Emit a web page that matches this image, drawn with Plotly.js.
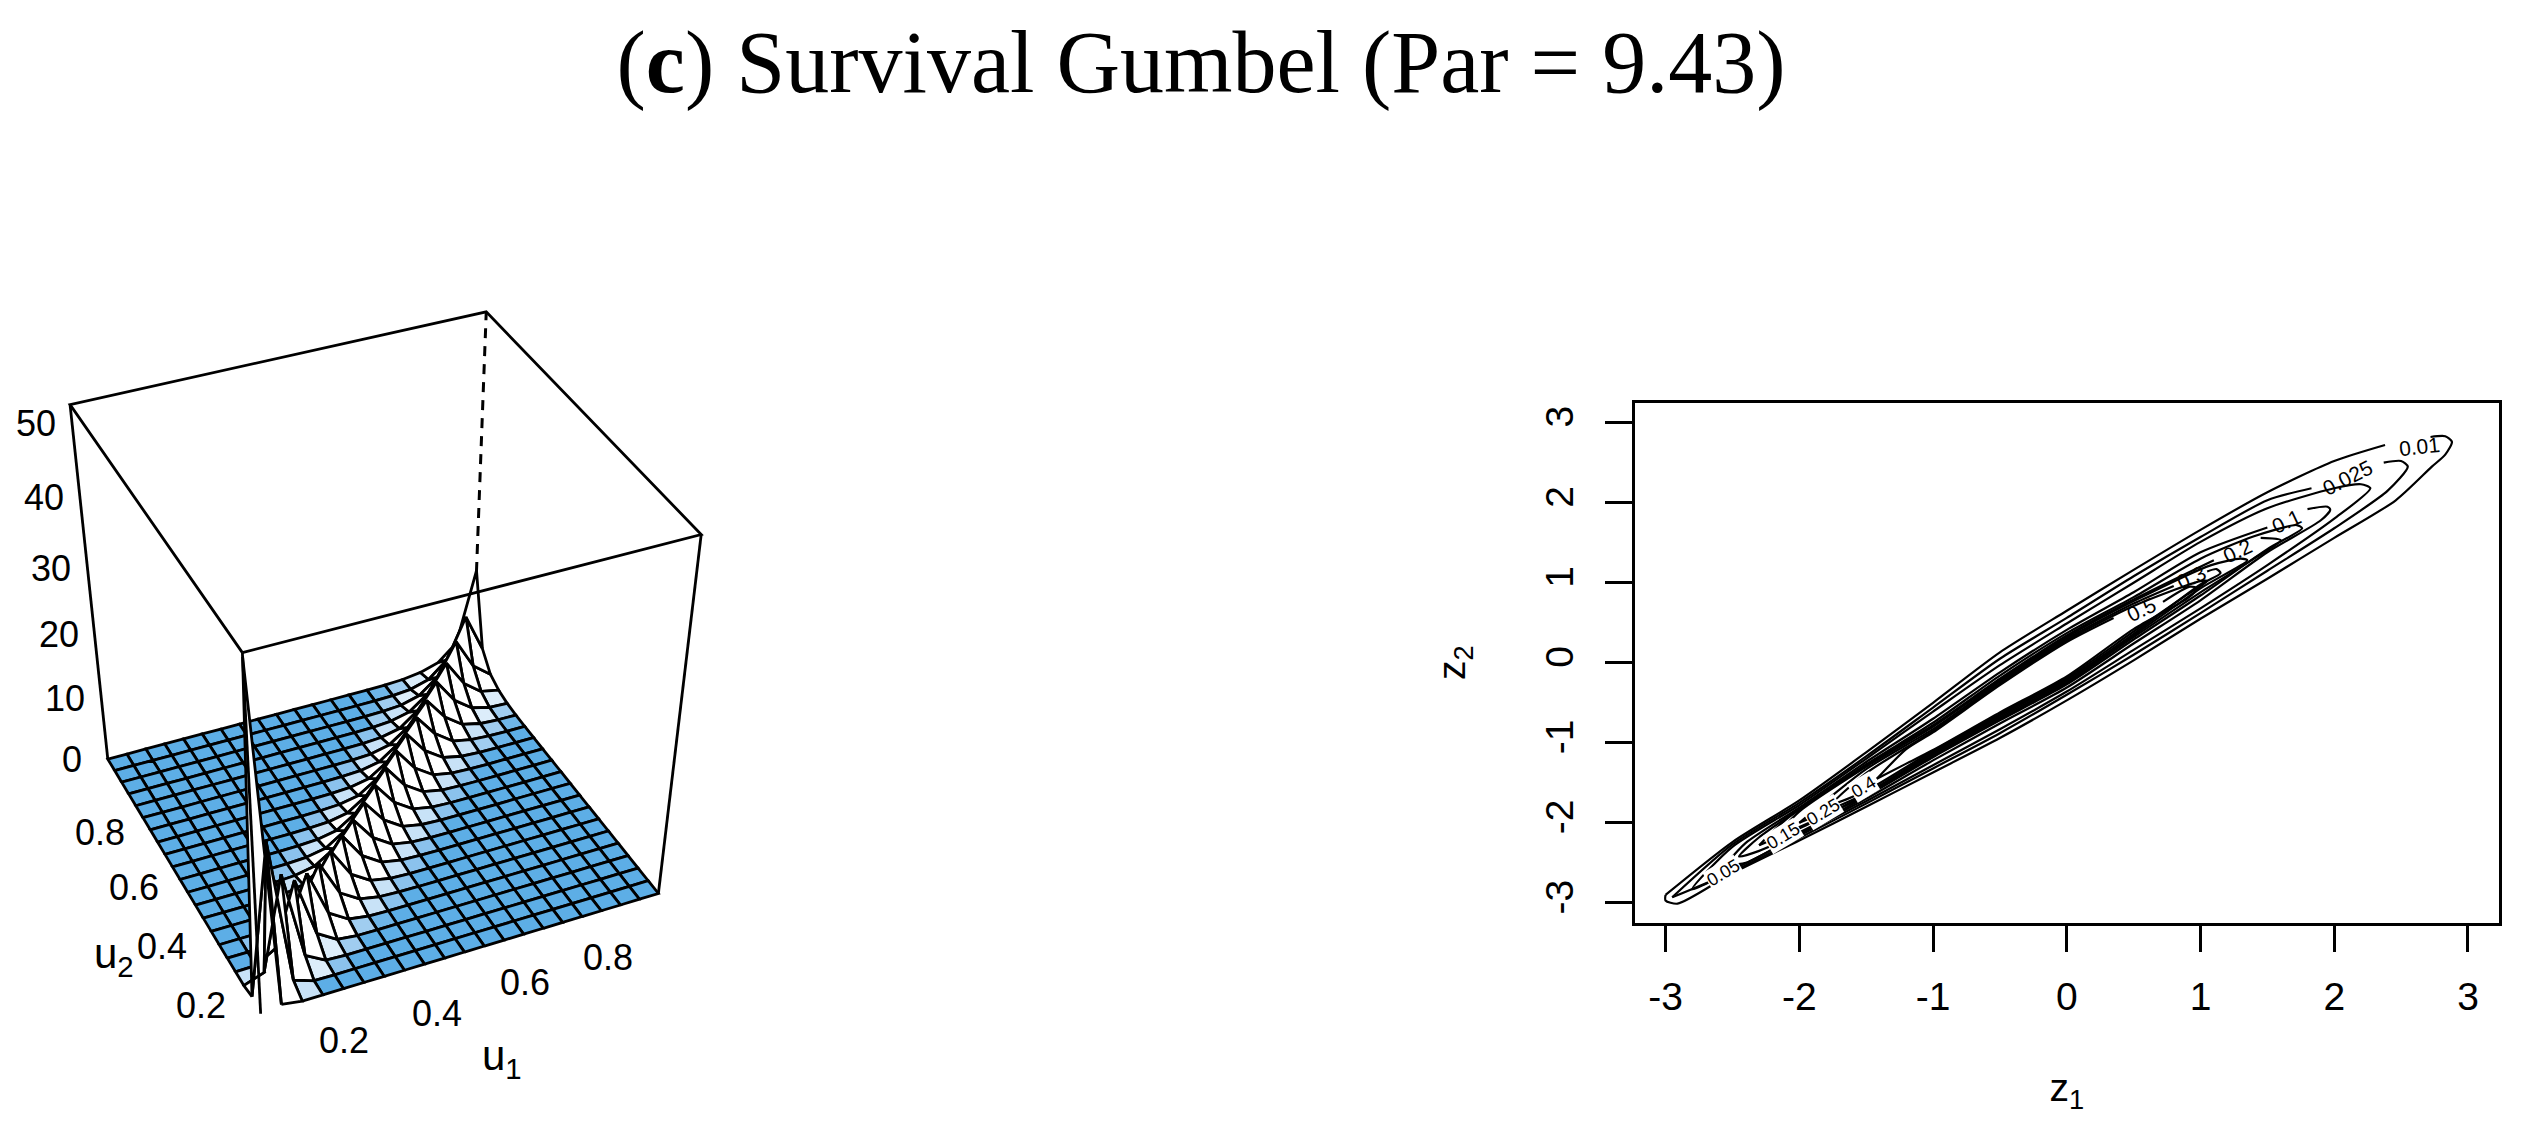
<!DOCTYPE html>
<html><head><meta charset="utf-8"><script src="https://cdn.plot.ly/plotly-3.0.1.min.js"></script>
<style>html,body{margin:0;padding:0;background:#fff}#g{width:2531px;height:1135px}</style></head>
<body><div id="g"></div>
<script>
const o = 0.01;
const uGrid = [0.01,0.059,0.108,0.157,0.206,0.255,0.304,0.353,0.402,0.451,0.5,0.549,0.598,0.647,0.696,0.745,0.794,0.843,0.892,0.941,0.99];
const density = [
[52,.5,.02,o,o,o,o,o,o,o,o,o,o,o,o,o,o,o,o,o,o],
[.5,24,1.2,.06,o,o,o,o,o,o,o,o,o,o,o,o,o,o,o,o,o],
[.02,1.2,16,2,.2,.02,o,o,o,o,o,o,o,o,o,o,o,o,o,o,o],
[o,.06,2,12,2.4,.4,.05,o,o,o,o,o,o,o,o,o,o,o,o,o,o],
[o,o,.2,2.4,10,2.6,.6,.1,.02,o,o,o,o,o,o,o,o,o,o,o,o],
[o,o,.02,.4,2.6,8.5,2.8,.8,.2,.05,o,o,o,o,o,o,o,o,o,o,o],
[o,o,o,.05,.6,2.8,7.5,2.8,.8,.2,.05,o,o,o,o,o,o,o,o,o,o],
[o,o,o,o,.1,.8,2.8,7,2.8,.8,.2,.05,o,o,o,o,o,o,o,o,o],
[o,o,o,o,.02,.2,.8,2.8,6.6,2.8,.8,.2,.05,o,o,o,o,o,o,o,o],
[o,o,o,o,o,.05,.2,.8,2.8,6.5,2.8,.8,.2,.05,o,o,o,o,o,o,o],
[o,o,o,o,o,o,.05,.2,.8,2.8,6.5,2.8,.8,.2,.05,o,o,o,o,o,o],
[o,o,o,o,o,o,o,.05,.2,.8,2.8,6.5,2.8,.8,.2,.05,o,o,o,o,o],
[o,o,o,o,o,o,o,o,.05,.2,.8,2.8,6.5,2.8,.8,.2,.05,o,o,o,o],
[o,o,o,o,o,o,o,o,o,.05,.2,.8,2.8,6.5,2.9,.9,.25,.06,.02,o,o],
[o,o,o,o,o,o,o,o,o,o,.05,.2,.8,2.9,6.5,3,.9,.3,.08,.03,.02],
[o,o,o,o,o,o,o,o,o,o,o,.05,.2,.9,3,6.6,3.1,1,.3,.1,.06],
[o,o,o,o,o,o,o,o,o,o,o,o,.05,.25,.9,3.1,7,3.2,1.1,.35,.2],
[o,o,o,o,o,o,o,o,o,o,o,o,o,.06,.3,1,3.2,7.5,3.4,1.2,.6],
[o,o,o,o,o,o,o,o,o,o,o,o,o,.02,.08,.3,1.1,3.4,8.5,3.7,1.5],
[o,o,o,o,o,o,o,o,o,o,o,o,o,o,.03,.1,.35,1.2,3.7,10,4],
[o,o,o,o,o,o,o,o,o,o,o,o,o,o,.02,.06,.2,.6,1.5,4,15]
];
const zTicks = [0,10,20,30,40,50];
const u2Ticks = [0.2,0.4,0.6,0.8];
const u1Ticks = [0.2,0.4,0.6,0.8];
const zTop = 52.5, uMin = 0.01, uMax = 0.99;
const facetBands = [[0.8,'#FFFFFF'],[0.45,'#DCEDFA'],[0.2,'#C8E2F7'],[0.1,'#A0CDF0'],[0.06,'#8BC2ED'],[0.03,'#6EB5E8'],[-1,'#5DAEE6']];

const c001 = {x:[-3,-2.5,-2,-1.5,-1,-.5,0,.5,1,1.5,2,2.38,null,2.72,2.83,2.88,2.83,2.73,2.46,2,1.5,1,.5,0,-.5,-1,-1.5,-2,-2.5,-2.91,-3,-3],
              y:[-2.9,-2.24,-1.72,-1.12,-.5,.13,.65,1.16,1.66,2.13,2.52,2.72,null,2.82,2.83,2.76,2.6,2.45,2.03,1.56,1.05,.55,.03,-.47,-.94,-1.37,-1.8,-2.22,-2.63,-3.01,-2.97,-2.9]};
const c0025 = {x:[-2.95,-2.5,-2,-1.5,-1,-.5,0,.5,1,1.5,1.83,null,2.37,2.5,2.55,2.4,2,1.5,1,.5,0,-.5,-1,-1.5,-2,-2.5,-2.95],
               y:[-2.93,-2.27,-1.75,-1.17,-.56,.05,.56,1.08,1.57,2.03,2.18,null,2.5,2.52,2.45,2.15,1.68,1.15,.62,.1,-.4,-.88,-1.32,-1.76,-2.19,-2.61,-2.93]};
const c005 = {x:[-2.8,-2.5,-2,-1.5,-1,-.5,0,.5,1,1.5,2,2.2,2.27,2,1.5,1,.5,0,-.5,-1,-1.5,-2,-2.5,-2.8],
              y:[-2.83,-2.3,-1.78,-1.2,-.61,-.03,.49,1.0,1.51,1.93,2.18,2.23,2.18,1.8,1.22,.68,.16,-.36,-.83,-1.28,-1.73,-2.16,-2.59,-2.83]};
const c01 = {x:[-2.55,-2.4,-2,-1.5,-1,-.5,0,.5,1,1.5,null,1.8,1.95,1.97,1.9,1.5,1,.5,0,-.5,-1,-1.5,-2,-2.4,-2.55],
             y:[-2.52,-2.25,-1.81,-1.24,-.7,-.12,.41,.88,1.38,1.69,null,1.92,1.95,1.91,1.78,1.38,.78,.24,-.31,-.76,-1.22,-1.7,-2.14,-2.5,-2.52]};
const c015 = {x:[-2.45,-2.3,-2,-1.5,-1,-.5,0,.5,1,1.4,1.72,1.76,1.5,1,.5,0,-.5,-1,-1.5,-2,-2.3,-2.45],
              y:[-2.42,-2.18,-1.83,-1.27,-.75,-.16,.37,.82,1.3,1.58,1.72,1.68,1.42,.84,.29,-.27,-.72,-1.18,-1.67,-2.12,-2.35,-2.42]};
const c02 = {x:[-2.3,-2.1,-1.5,-1,-.5,0,.5,1.1,null,1.45,1.6,1.4,1,.5,0,-.5,-1,-1.5,-2.1,-2.3],
             y:[-2.28,-1.96,-1.28,-.78,-.2,.34,.79,1.28,null,1.56,1.53,1.3,.88,.32,-.25,-.7,-1.16,-1.66,-2.13,-2.28]};
const c025 = {x:[-2.15,-2,-1.5,-1,-.5,0,.5,1.08,1.3,1.35,1,.5,0,-.5,-1,-1.5,-2,-2.15],
              y:[-2.14,-1.86,-1.3,-.8,-.22,.32,.77,1.22,1.3,1.28,.93,.34,-.23,-.68,-1.14,-1.64,-2.07,-2.14]};
const c03 = {x:[-2,-1.5,-1,-.5,0,.5,.8,null,1.05,1.12,1.15,1,.5,0,-.5,-1,-1.5,-2],
             y:[-2,-1.33,-.83,-.24,.3,.74,.96,null,1.14,1.17,1.12,.98,.36,-.21,-.66,-1.12,-1.63,-2]};
const c04 = {x:[-1.75,-1.5,-1,-.5,0,.5,1,1.05,.9,.5,0,-.5,-1,-1.5,-1.75],
             y:[-1.76,-1.38,-.85,-.26,.28,.71,1.02,1.02,.85,.39,-.19,-.64,-1.1,-1.6,-1.76]};
const c05 = {x:[-1.42,-1.2,-1,-.5,0,.35,null,.72,.92,.98,.9,.5,0,-.5,-1,-1.2,-1.42],
             y:[-1.45,-1.08,-.87,-.28,.26,.56,null,.76,.95,.93,.8,.42,-.17,-.62,-1.09,-1.26,-1.45]};
const contourLines = [c001,c0025,c005,c01,c015,c02,c025,c03,c04,c05];
const contourLabels = [
  {t:'0.01',x:2.64,y:2.70,a:-6},{t:'0.025',x:2.10,y:2.32,a:-27},{t:'0.1',x:1.64,y:1.76,a:-25},
  {t:'0.2',x:1.28,y:1.40,a:-25},{t:'0.3',x:.93,y:1.06,a:-25},{t:'0.5',x:.56,y:.66,a:-25},
  {t:'0.05',x:-2.57,y:-2.63,a:-31},{t:'0.15',x:-2.12,y:-2.17,a:-31},{t:'0.25',x:-1.82,y:-1.87,a:-31},{t:'0.4',x:-1.52,y:-1.55,a:-31}
];
const xTicks2 = [-3,-2,-1,0,1,2,3];
const yTicks2 = [-3,-2,-1,0,1,2,3];

const W=2531,H=1135;
const tf = 'Liberation Sans, Arial, sans-serif';
const labF = {family:tf,size:36,color:'#000'};
const tickF = {family:tf,size:39,color:'#000'};

// perspective view of the box, the same construction as R's persp()
const az=24*Math.PI/180, el=42*Math.PI/180, dist=6, zAspect=1.22;
const sa=Math.sin(az),ca=Math.cos(az),se=Math.sin(el),ce=Math.cos(el);
function view(u1,u2,z){
  const px=(u1-uMin)/(uMax-uMin)-.5, py=(u2-uMin)/(uMax-uMin)-.5, pz=(z/zTop-.5)*zAspect;
  const d=-sa*ce*px-ca*ce*py+se*pz, f=dist/(dist-d);
  return {x:(ca*px-sa*py)*f, y:(sa*se*px+ca*se*py+ce*pz)*f, d:d};
}
function seg(pts,width,dash){
  const p=pts.map(a=>view(a[0],a[1],a[2]));
  return {type:'scatter',mode:'lines',xaxis:'x2',yaxis:'y2',x:p.map(q=>q.x),y:p.map(q=>q.y),hoverinfo:'skip',showlegend:false,
    line:{color:'#000',width:width,dash:dash||'solid'}};
}
const traces=[];
traces.push(seg([[uMax,uMax,0],[uMax,uMax,zTop]],3,'10px,8px'));
const facets=[];
for(let r=0;r<uGrid.length-1;r++)for(let c=0;c<uGrid.length-1;c++){
  const cs=[[c,r],[c+1,r],[c+1,r+1],[c,r+1],[c,r]];
  const pts=cs.map(k=>view(uGrid[k[0]],uGrid[k[1]],density[k[1]][k[0]]));
  const mean=(density[r][c]+density[r][c+1]+density[r+1][c]+density[r+1][c+1])/4;
  const depth=(pts[0].d+pts[1].d+pts[2].d+pts[3].d)/4;
  facets.push({pts,mean,depth});
}
facets.sort((a,b)=>a.depth-b.depth).forEach(f=>{
  traces.push({type:'scatter',mode:'lines',xaxis:'x2',yaxis:'y2',x:f.pts.map(q=>q.x),y:f.pts.map(q=>q.y),fill:'toself',
    fillcolor:facetBands.find(b=>f.mean>=b[0])[1],hoverinfo:'skip',showlegend:false,line:{color:'#000',width:2.8}});
});
traces.push(seg([[uMin,uMin,zTop],[uMax,uMin,zTop],[uMax,uMax,zTop],[uMin,uMax,zTop],[uMin,uMin,zTop]],2.8));
traces.push(seg([[uMin,uMin,0],[uMin,uMin,zTop]],2.8));
traces.push(seg([[uMax,uMin,0],[uMax,uMin,zTop]],2.8));
traces.push(seg([[uMin,uMax,0],[uMin,uMax,zTop]],2.8));

contourLines.forEach(c=>traces.push({type:'scatter',mode:'lines',xaxis:'x',yaxis:'y',x:c.x,y:c.y,hoverinfo:'skip',showlegend:false,
  line:{color:'#000',width:2.2,shape:'spline',smoothing:0.7},connectgaps:false}));

const ann = contourLabels.map(l=>({xref:'x',yref:'y',x:l.x,y:l.y,text:l.t,textangle:l.a,showarrow:false,
   font:{family:tf,size:l.x<0?18:21,color:'#000'},bgcolor:l.x<0?'#fff':'rgba(0,0,0,0)',borderpad:0}));
function tag(p,text,xs,ys){ann.push({xref:'x2',yref:'y2',x:p.x,y:p.y,text,showarrow:false,xanchor:'center',yanchor:'middle',xshift:xs,yshift:ys,font:labF});}
zTicks.forEach(v=>tag(view(uMin,uMax,v),String(v),-36,0));
const u2X={0.2:-27,0.4:-34,0.6:-31,0.8:-35}, u2Y={0.2:-46,0.4:-41,0.6:-34,0.8:-28};
u2Ticks.forEach(v=>tag(view(uMin,v,0),v.toFixed(1),u2X[v],u2Y[v]));
const u1X={0.2:3,0.4:13,0.6:20,0.8:24}, u1Y={0.2:-51,0.4:-49,0.6:-43,0.8:-42};
u1Ticks.forEach(v=>tag(view(v,uMin,0),v.toFixed(1),u1X[v],u1Y[v]));
const nameF={family:tf,size:42,color:'#000'};
ann.push({xref:'paper',yref:'paper',x:502/W,y:1-1058/H,xanchor:'center',yanchor:'middle',text:'u<sub>1</sub>',showarrow:false,font:nameF});
ann.push({xref:'paper',yref:'paper',x:114/W,y:1-956/H,xanchor:'center',yanchor:'middle',text:'u<sub>2</sub>',showarrow:false,font:nameF});

const ax0={visible:false,showgrid:false,zeroline:false,fixedrange:true};
Plotly.newPlot('g',traces,{
  width:W,height:H,paper_bgcolor:'#fff',plot_bgcolor:'rgba(0,0,0,0)',showlegend:false,
  margin:{l:0,r:0,t:0,b:0,pad:0},
  title:{text:'(<b>c</b>) Survival Gumbel (Par = 9.43)',x:1201/W,xanchor:'center',xref:'paper',y:1-61/H,yanchor:'middle',yref:'container',
     font:{family:'Liberation Serif, serif',size:88,color:'#000'}},
  xaxis2:Object.assign({},ax0,{domain:[0,750/W],range:[-375/445,375/445],anchor:'y2'}),
  yaxis2:Object.assign({},ax0,{domain:[0,1],range:[(658-1135)/392,658/392],anchor:'x2'}),
  xaxis:{domain:[1634.5/W,2499/W],range:[-3.232,3.232],tickvals:xTicks2,ticktext:xTicks2.map(String),ticks:'outside',ticklen:26,tickwidth:2.5,tickcolor:'#000',
    showline:true,linecolor:'#000',linewidth:3,mirror:true,showgrid:false,zeroline:false,tickfont:tickF,ticklabelstandoff:12,
    title:{text:'z<sub>1</sub>',font:tickF,standoff:57},anchor:'y'},
  yaxis:{domain:[(H-922.5)/H,(H-403)/H],range:[-3.245,3.245],tickvals:yTicks2,ticktext:yTicks2.map(String),ticks:'outside',ticklen:27,tickwidth:2.5,tickcolor:'#000',
    showline:true,linecolor:'#000',linewidth:3,mirror:true,showgrid:false,zeroline:false,tickfont:tickF,tickangle:-90,ticklabelstandoff:16,
    title:{text:'z<sub>2</sub>',font:tickF,standoff:61},anchor:'x'},
  annotations:ann
},{displayModeBar:false,responsive:false});
</script></body></html>
